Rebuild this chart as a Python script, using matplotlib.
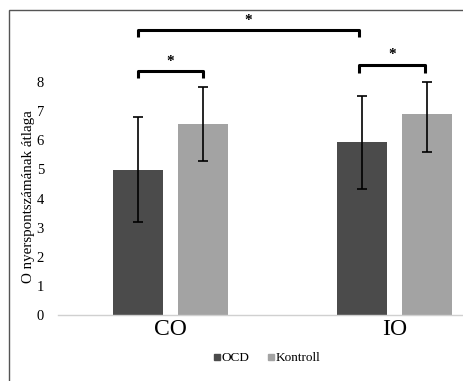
import numpy as np
import matplotlib.pyplot as plt
from matplotlib.lines import Line2D
from matplotlib.patches import Rectangle

plt.rcParams['font.family'] = ['Liberation Serif', 'DejaVu Serif']

categories = ['CO', 'IO']
groups = ['OCD', 'Kontroll']
ocd_mean = [5.0, 5.93]
ocd_err_low = [3.2, 4.34]
ocd_err_high = [6.81, 7.53]
kontroll_mean = [6.55, 6.9]
kontroll_err_low = [5.3, 5.59]
kontroll_err_high = [7.82, 8.02]
yticks = [0, 1, 2, 3, 4, 5, 6, 7, 8]

W, H = 463, 381
fig = plt.figure(figsize=(W / 100, H / 100), dpi=100)
ax = fig.add_axes([58 / W, 66 / H, 449 / W, 305 / H])

x = np.arange(len(categories))
w = 0.223
off = 0.1448
c_ocd = '#4b4b4b'
c_kon = '#a3a3a3'

ax.bar(x - off, ocd_mean, w, color=c_ocd)
ax.bar(x + off, kontroll_mean, w, color=c_kon)
for xs, m, lo, hi in [(x - off, ocd_mean, ocd_err_low, ocd_err_high),
                      (x + off, kontroll_mean, kontroll_err_low, kontroll_err_high)]:
    m = np.array(m)
    yerr = [m - np.array(lo), np.array(hi) - m]
    ax.errorbar(xs, m, yerr=yerr, fmt='none', ecolor='black', elinewidth=1.2,
                capsize=3.5, capthick=1.2)


def bracket(x1, x2, ytop, yleg, ystar):
    ax.plot([x1, x1, x2, x2], [yleg, ytop, ytop, yleg], color='black', lw=2.2,
            solid_joinstyle='round', solid_capstyle='butt')
    ax.text((x1 + x2) / 2, ystar, '*', ha='center', va='center', fontsize=11,
            fontweight='bold')


# significance brackets
bracket(x[0] - off, x[1] - off - 0.013, 9.79, 9.55, 10.12)
bracket(x[0] - off, x[0] + off, 8.39, 8.14, 8.72)
bracket(x[1] - off - 0.013, x[1] + off - 0.01, 8.59, 8.32, 8.95)

ax.set_xlim(-0.5, 1.5)
ax.set_ylim(0, 305 / 29.1)
ax.set_yticks(yticks)
ax.set_yticklabels([str(t) for t in yticks], fontsize=10.5)
ax.set_xticks(x)
ax.set_xticklabels(categories, fontsize=17)
ax.tick_params(axis='both', length=0)
ax.tick_params(axis='y', pad=10)
ax.tick_params(axis='x', pad=3)
for s in ['top', 'right', 'left']:
    ax.spines[s].set_visible(False)
ax.spines['bottom'].set_color('#d0d0d0')
ax.spines['bottom'].set_linewidth(1)
ax.set_ylabel('O nyerspontszámának átlaga', fontsize=10.8)
ax.yaxis.set_label_coords(-0.051, 0.387)

handles = [Line2D([], [], marker='s', color=c, ls='none', markersize=5) for c in [c_ocd, c_kon]]
fig.legend(handles, groups, loc='center', bbox_to_anchor=(265 / W, 1 - 358 / H),
           ncol=2, frameon=False, fontsize=9.5, handletextpad=-0.2, columnspacing=1.1,
           handlelength=1.1)

fig.add_artist(Rectangle((9 / W, -0.1), 1.2, 1.1 - 10 / H, transform=fig.transFigure,
                         fill=False, edgecolor='#555555', lw=1))

fig.savefig('out.png', dpi=100)
